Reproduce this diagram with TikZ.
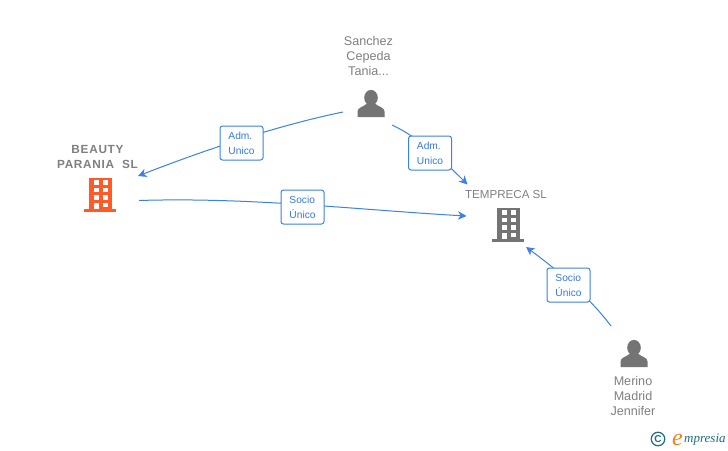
\documentclass[tikz,border=0pt]{standalone}
\usepackage{fontspec}
\setmainfont{Liberation Sans}
\newfontfamily\logofont{Liberation Serif}
\newfontfamily\spacedfont[LetterSpace=6]{Liberation Sans}
\usetikzlibrary{arrows.meta}
\definecolor{edgeblue}{RGB}{58,130,228}
\definecolor{labelblue}{RGB}{52,122,225}
\definecolor{txtgrey}{RGB}{128,128,128}
\definecolor{icongrey}{RGB}{116,116,116}
\definecolor{iconorange}{RGB}{255,90,40}
\definecolor{logoteal}{RGB}{30,110,130}
\definecolor{logoorange}{RGB}{240,130,30}
\tikzset{
  link/.style={draw=edgeblue,line width=1pt,-{Stealth[length=8.5pt,width=8.5pt,inset=2.5pt]}},
  tag/.style={draw=edgeblue,line width=1pt,fill=white,rounded corners=2.5pt,minimum width=43pt,minimum height=34pt,inner sep=0pt,align=left,text=labelblue,font=\fontsize{10.2}{15}\selectfont},
  who/.style={text=txtgrey,align=center,font=\fontsize{12.6}{15}\selectfont,inner sep=0pt},
  firm/.style={text=txtgrey,align=center,inner sep=0pt},
}
\newcommand{\buildingicon}[2]{%
  \begin{scope}[shift={(#1)}]
    \fill[#2] (-11.5,15) rectangle (11.5,-16);
    \fill[#2] (-16,-16) rectangle (16,-19);
    \foreach \yy in {8.5,1,-6.5}{
      \fill[white] (-6.5,\yy) rectangle (-1.5,\yy+4.5);
      \fill[white] (2.5,\yy) rectangle (7.5,\yy+4.5);
    }
    \fill[white] (-6.5,-16) rectangle (-1.5,-9.5);
    \fill[white] (2.5,-14) rectangle (7.5,-9.5);
  \end{scope}}
\newcommand{\personicon}[1]{%
  \begin{scope}[shift={(#1)}]
    \fill[icongrey] (0,5.8) ellipse (6.8pt and 7.8pt);
    \fill[icongrey] (-13.5,-13.5) -- (-13.5,-8) .. controls (-13.5,-4) and (-8,-3.5) .. (-4.5,-0.5) -- (4.5,-0.5) .. controls (8,-3.5) and (13.5,-4) .. (13.5,-8) -- (13.5,-13.5) -- cycle;
  \end{scope}}
\begin{document}
\begin{tikzpicture}[x=1pt,y=1pt]
\useasboundingbox (0,0) rectangle (728,-450);
\fill[white] (0,0) rectangle (728,-450);
% node labels
\node[who] (sanchez) at (368.5,-56) {Sanchez\\Cepeda\\Tania...};
\node[who] (merino) at (633,-396) {Merino\\Madrid\\Jennifer};
\node[firm,font=\fontsize{11.8}{15}\selectfont\spacedfont\bfseries] (beauty) at (97.5,-157) {BEAUTY\\PARANIA\ \ SL};
\node[firm,font=\fontsize{11.6}{15}\selectfont] (tempreca) at (506,-194.5) {TEMPRECA SL};
% icons
\buildingicon{100,-193}{iconorange}
\buildingicon{508,-223}{icongrey}
\personicon{371,-103.5}
\personicon{634,-353.5}
% connector anchors
\coordinate (sanchezR) at (392,-125);
\coordinate (sanchezL) at (343,-112);
\coordinate (beautyIn) at (138,-176);
\coordinate (beautyOut) at (139,-200.5);
\coordinate (tempTop) at (467.5,-184.5);
\coordinate (tempLeft) at (466.5,-216);
\coordinate (tempBot) at (526,-247);
\coordinate (merinoOut) at (611,-326);
% connectors
\draw[link] (sanchezL) .. controls (280,-125) and (210,-148) .. (beautyIn);
\draw[link] (sanchezR) .. controls (420,-138) and (445,-162) .. (tempTop);
\draw[link] (beautyOut) .. controls (250,-197) and (360,-210) .. (tempLeft);
\draw[link] (merinoOut) .. controls (590,-298) and (560,-272) .. (tempBot);
% connector labels
\node[tag] (t1) at (241.5,-143) {Adm.\\Unico};
\node[tag] (t2) at (430,-153) {Adm.\\Unico};
\node[tag] (t3) at (302.5,-207) {Socio\\Único};
\node[tag] (t4) at (568.5,-285) {Socio\\Único};
% logo
\node[draw=logoteal,circle,line width=1.2pt,minimum size=13.5pt,inner sep=0pt,text=logoteal,font=\fontsize{10}{10}\selectfont\bfseries] (copy) at (658,-439) {C};
\node[inner sep=0pt,text=logoorange,font=\fontsize{24}{24}\selectfont\logofont\itshape] (logoe) at (677.5,-440) {e};
\node[inner sep=0pt,text=logoteal,anchor=west,font=\fontsize{13}{13}\selectfont\logofont\itshape] (logot) at (684,-439.5) {mpresia};
\end{tikzpicture}
\end{document}
